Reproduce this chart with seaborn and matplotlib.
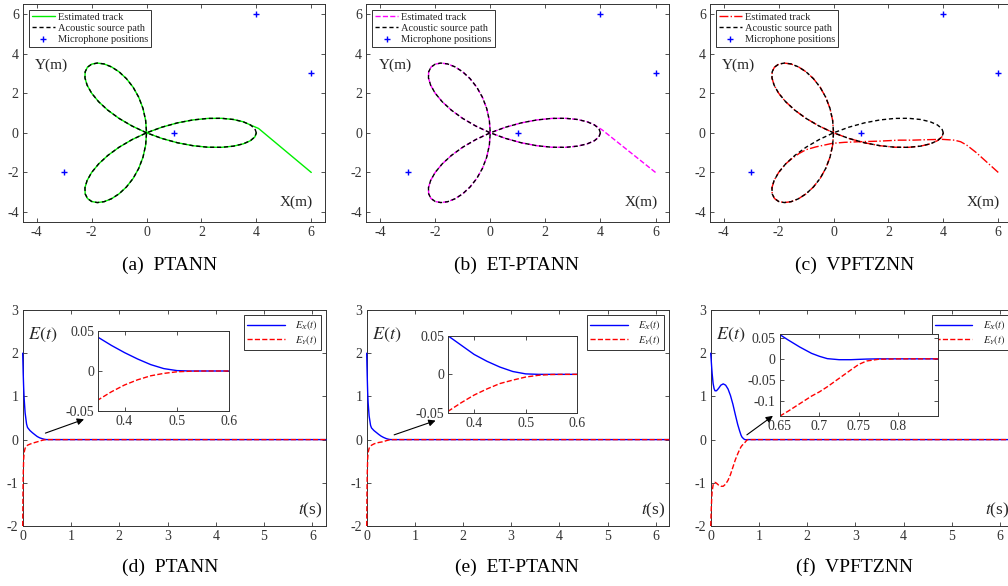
import matplotlib
matplotlib.use("Agg")
import matplotlib.pyplot as plt
import seaborn as sns

# ---- data ----
# acoustic source path (three-leaf rose), in traversal order
path_x = [4.0, 3.945, 3.783, 3.52, 3.165, 2.732, 2.236, 1.695, 1.129, 0.558, 0.0,
          -0.525, -1.0, -1.411, -1.748, -2.0, -2.165, -2.243, -2.236, -2.152, -2.0,
          -1.793, -1.547, -1.277, -1.0, -0.732, -0.488, -0.284, -0.129, -0.033, 0.0,
          -0.033, -0.129, -0.284, -0.488, -0.732, -1.0, -1.277, -1.547, -1.793, -2.0,
          -2.152, -2.236, -2.243, -2.165, -2.0, -1.748, -1.411, -1.0, -0.525, 0.0,
          0.558, 1.129, 1.695, 2.236, 2.732, 3.165, 3.52, 3.783, 3.945, 4.0]
path_y = [0.0, 0.207, 0.398, 0.558, 0.673, 0.732, 0.727, 0.651, 0.503, 0.284, 0.0,
          -0.341, -0.726, -1.142, -1.573, -2.0, -2.404, -2.769, -3.077, -3.313, -3.464,
          -3.52, -3.475, -3.327, -3.077, -2.732, -2.3, -1.793, -1.229, -0.625, 0.0,
          0.625, 1.229, 1.793, 2.3, 2.732, 3.077, 3.327, 3.475, 3.52, 3.464,
          3.313, 3.077, 2.769, 2.404, 2.0, 1.573, 1.142, 0.726, 0.341, 0.0,
          -0.284, -0.503, -0.651, -0.727, -0.732, -0.673, -0.558, -0.398, -0.207, 0.0]

mic_x = [-3, 1, 4, 6]
mic_y = [-2, 0, 6, 3]

# start of each estimated track before it joins the path
head_a_x, head_a_y, join_a = [6.0, 4.08], [-2.0, 0.22], 2
head_b_x, head_b_y, join_b = [6.0, 4.07], [-2.0, 0.14], 2
head_c_x = [6.0, 5.6, 5.2, 4.85, 4.63, 4.4, 3.96, 3.3, 2.87, 2.39, 1.66, 0.93, 0.4,
            -0.04, -0.64, -1.0, -1.25, -1.5]
head_c_y = [-2.0, -1.5, -1.0, -0.62, -0.45, -0.37, -0.33, -0.35, -0.37, -0.37, -0.42,
            -0.45, -0.48, -0.53, -0.71, -0.85, -1.04, -1.28]
join_c = 14

# tracking errors
t_de = [0, 0.005, 0.01, 0.02, 0.03, 0.05, 0.08, 0.1, 0.15, 0.2, 0.25, 0.3, 0.35,
        0.375, 0.4, 0.425, 0.45, 0.475, 0.5, 0.525, 0.55, 0.575, 0.6, 1, 2, 3, 4, 5, 6.283]
ex_d = [2.0, 1.78, 1.55, 1.2, 0.95, 0.62, 0.36, 0.28, 0.21, 0.16, 0.115, 0.072, 0.042,
        0.032, 0.023, 0.015, 0.008, 0.003, 0.0005, 0, 0, 0, 0, 0, 0, 0, 0, 0, 0]
ey_d = [-2.0, -1.3, -0.85, -0.45, -0.3, -0.2, -0.15, -0.13, -0.105, -0.085, -0.068,
        -0.052, -0.036, -0.026, -0.0175, -0.011, -0.006, -0.003, -0.001, -0.0003,
        0, 0, 0, 0, 0, 0, 0, 0, 0]
ex_e = [2.0, 1.72, 1.5, 1.1, 0.85, 0.55, 0.33, 0.27, 0.21, 0.165, 0.12, 0.08, 0.05,
        0.038, 0.026, 0.017, 0.0095, 0.0037, 0.0006, 0, 0, 0, 0, 0, 0, 0, 0, 0, 0]
ey_e = [-2.0, -1.3, -0.85, -0.45, -0.3, -0.2, -0.15, -0.13, -0.1, -0.08, -0.067,
        -0.057, -0.048, -0.037, -0.027, -0.019, -0.012, -0.0075, -0.0035, -0.0012,
        -0.0002, 0, 0, 0, 0, 0, 0, 0, 0]
t_f = [0, 0.01, 0.02, 0.03, 0.05, 0.07, 0.09, 0.12, 0.16, 0.21, 0.26, 0.31, 0.36, 0.41,
       0.46, 0.51, 0.56, 0.6, 0.63, 0.65, 0.66, 0.675, 0.69, 0.7, 0.71, 0.725, 0.74,
       0.75, 0.76, 0.775, 0.8, 0.85, 1, 2, 3, 4, 5, 6.283]
ex_f = [2.0, 1.85, 1.68, 1.53, 1.3, 1.18, 1.13, 1.13, 1.18, 1.26, 1.29, 1.26, 1.17, 1.02,
        0.82, 0.58, 0.35, 0.2, 0.1, 0.057, 0.045, 0.028, 0.013, 0.006, 0.0005, -0.002,
        -0.002, -0.0012, -0.0005, 0, 0, 0, 0, 0, 0, 0, 0, 0]
ey_f = [-2.0, -1.65, -1.38, -1.2, -1.05, -1.0, -0.99, -1.01, -1.05, -1.08, -1.08, -1.03,
        -0.94, -0.81, -0.64, -0.47, -0.33, -0.23, -0.165, -0.135, -0.124, -0.106, -0.088,
        -0.078, -0.066, -0.046, -0.026, -0.013, -0.005, -0.001, 0, 0, 0, 0, 0, 0, 0, 0]

names = ["PTANN", "ET-PTANN", "VPFTZNN"]
track_colors = ["#00ee00", "#ff00ff", "#ff0000"]
track_styles = ["-", "--", "-."]

# ---- style ----
sns.set_theme(style="ticks")
plt.rcParams["font.family"] = ["Liberation Serif", "DejaVu Serif"]
plt.rcParams["mathtext.fontset"] = "stix"
plt.rcParams["axes.unicode_minus"] = False
GRAY = "#333333"

W, H = 1008, 586
fig = plt.figure(figsize=(W / 100, H / 100), dpi=100)


def px_axes(l, r, t, b):
    return fig.add_axes([l / W, 1 - b / H, (r - l) / W, (b - t) / H])


def style(ax, size=10):
    for s in ax.spines.values():
        s.set_color(GRAY)
        s.set_linewidth(0.7)
    ax.tick_params(direction="in", top=True, right=True, length=3, width=0.6,
                   colors=GRAY, labelsize=size, pad=3)
    ax.set_xlabel("")
    ax.set_ylabel("")


fmt = matplotlib.ticker.FuncFormatter(lambda v, p: f"{v:g}")

top_cols = [(23, 325), (366.3, 669.3), (710, 1012)]
bot_cols = [(22.7, 326), (366.7, 669.3), (710.7, 1013.7)]
inset_px = [(98.3, 229.3, 331, 411), (448.3, 577.3, 336, 412.7), (780, 937.7, 334.3, 416)]
inset_xlim = [(0.35, 0.6), (0.35, 0.6), (0.65, 0.85)]
inset_ylim = [(-0.05, 0.05), (-0.05, 0.05), (-0.135, 0.058)]
inset_xt = [[0.4, 0.5, 0.6], [0.4, 0.5, 0.6], [0.65, 0.7, 0.75, 0.8]]
inset_yt = [[-0.05, 0, 0.05], [-0.05, 0, 0.05], [-0.1, -0.05, 0, 0.05]]
arrows = [((0.47, 0.15), (1.27, 0.47)), ((0.57, 0.11), (1.43, 0.44)),
          ((0.75, 0.11), (1.29, 0.55))]
caption_x = [170, 517, 855]

heads = [(head_a_x, head_a_y, join_a), (head_b_x, head_b_y, join_b),
         (head_c_x, head_c_y, join_c)]
errs = [(t_de, ex_d, ey_d), (t_de, ex_e, ey_e), (t_f, ex_f, ey_f)]

for i in range(3):
    # ---- trajectory panels ----
    ax = px_axes(top_cols[i][0], top_cols[i][1], 4, 222)
    hx, hy, j = heads[i]
    tx = hx + path_x[j:]
    ty = hy + path_y[j:]
    sns.lineplot(x=tx, y=ty, sort=False, estimator=None, ax=ax, color=track_colors[i],
                 linestyle=track_styles[i], lw=1.0, label="Estimated track")
    sns.lineplot(x=path_x, y=path_y, sort=False, estimator=None, ax=ax, color="black",
                 linestyle=(0, (3, 2)), lw=1.0, label="Acoustic source path")
    sns.scatterplot(x=mic_x, y=mic_y, ax=ax, marker="+", color="blue", s=22,
                    linewidth=1.0, label="Microphone positions")
    ax.set_xlim(-4.5, 6.5)
    ax.set_ylim(-4.5, 6.5)
    ax.set_xticks([-4, -2, 0, 2, 4, 6])
    ax.set_yticks([-4, -2, 0, 2, 4, 6])
    ax.xaxis.set_major_formatter(fmt)
    ax.yaxis.set_major_formatter(fmt)
    style(ax)
    leg = ax.legend(loc="upper left", fontsize=7.5, frameon=True, fancybox=False,
                    edgecolor=GRAY, framealpha=1, borderaxespad=0.55, borderpad=0.3,
                    labelspacing=0.15, handlelength=2.2, handletextpad=0.3,
                    scatterpoints=1)
    leg.get_frame().set_linewidth(0.7)
    ax.text(-4.06, 3.41, "Y(m)", fontsize=11, ha="left", va="center")
    ax.text(6.07, -3.48, "X(m)", fontsize=11, ha="right", va="center")
    fig.text(caption_x[i] / W, 1 - 265 / H, f"({'abc'[i]})  {names[i]}",
             fontsize=14, ha="center", va="center", color="black")

    # ---- error panels ----
    t, ex, ey = errs[i]
    ax = px_axes(bot_cols[i][0], bot_cols[i][1], 310, 526)
    sns.lineplot(x=t, y=ex, sort=False, estimator=None, ax=ax, color="blue",
                 lw=1.0, label="$E_X(t)$", zorder=3, clip_on=False)
    sns.lineplot(x=t, y=ey, sort=False, estimator=None, ax=ax, color="red",
                 linestyle="--", lw=1.0, label="$E_Y(t)$", zorder=3, clip_on=False)
    ax.set_xlim(0, 6.2832)
    ax.set_ylim(-2, 3)
    ax.set_xticks(range(7))
    ax.set_yticks(range(-2, 4))
    style(ax)
    leg = ax.legend(loc="upper right", fontsize=7.5, frameon=True, fancybox=False,
                    edgecolor=GRAY, framealpha=1, borderaxespad=0.5, borderpad=0.3,
                    labelspacing=0.1, handlelength=3.6, handletextpad=1.0)
    leg.get_frame().set_linewidth(0.7)
    leg.set_zorder(5)
    ax.text(0.1, 2.42, "$E(t)$", fontsize=13, ha="left", va="center")
    ax.text(6.2, -1.63, "$t$(s)", fontsize=12.5, ha="right", va="center")
    (x0, y0), (x1, y1) = arrows[i]
    ax.annotate("", xy=(x1, y1), xytext=(x0, y0),
                arrowprops=dict(arrowstyle="-|>", color="black", lw=0.8,
                                mutation_scale=10, shrinkA=0, shrinkB=0))
    fig.text(caption_x[i] / W, 1 - 567 / H, f"({'def'[i]})  {names[i]}",
             fontsize=14, ha="center", va="center", color="black")

    # ---- zoomed inset ----
    l, r, tp, bt = inset_px[i]
    ins = px_axes(l, r, tp, bt)
    ins.set_facecolor("white")
    ins.set_zorder(6)
    sns.lineplot(x=t, y=ex, sort=False, estimator=None, ax=ins, color="blue", lw=1.0)
    sns.lineplot(x=t, y=ey, sort=False, estimator=None, ax=ins, color="red",
                 linestyle="--", lw=1.0)
    ins.set_xlim(*inset_xlim[i])
    ins.set_ylim(*inset_ylim[i])
    ins.set_xticks(inset_xt[i])
    ins.set_yticks(inset_yt[i])
    ins.xaxis.set_major_formatter(fmt)
    ins.yaxis.set_major_formatter(fmt)
    style(ins)

fig.savefig("out.png", dpi=100)
